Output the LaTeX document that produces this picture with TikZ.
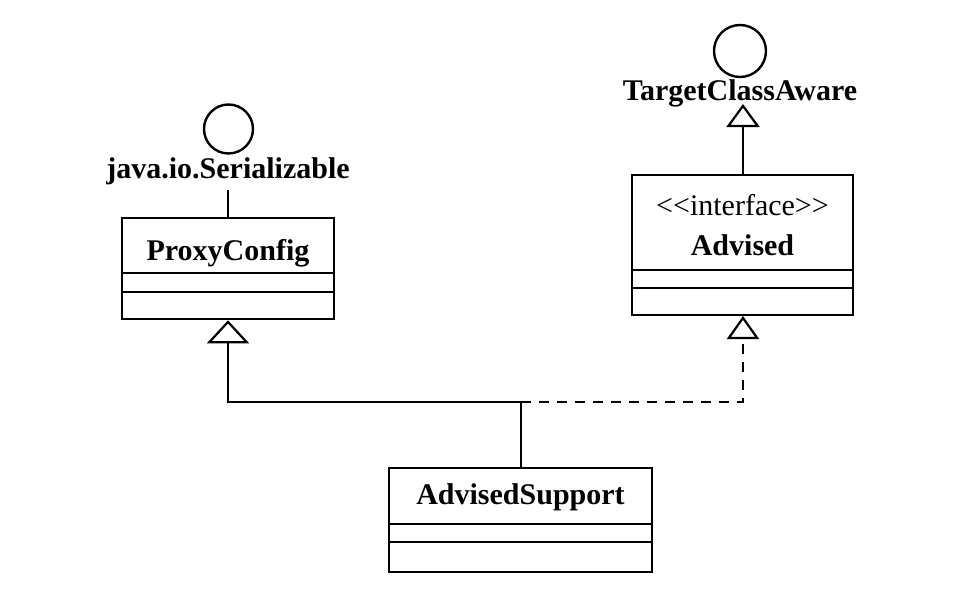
\documentclass[tikz,border=0pt]{standalone}
\usepackage{fontspec}
\setmainfont{Liberation Serif}
\usetikzlibrary{arrows.meta}
\begin{document}
\begin{tikzpicture}[x=1pt,y=-1pt,
  classbox/.style={draw, line width=2.6pt, rectangle, inner sep=0pt},
  iface/.style={draw, circle, line width=2.4pt, inner sep=0pt},
  lbl/.style={font=\fontsize{30}{36}\selectfont\bfseries, inner sep=0pt},
  conn/.style={line width=2.2pt},
  dashconn/.style={line width=2.2pt, dash pattern=on 10pt off 8pt},
  gen/.style={-{Triangle[open, length=23pt, width=#1, line width=2.2pt]}}
]
\useasboundingbox (0,0) rectangle (978,594);

% ProxyConfig
\node[classbox, minimum width=212pt, minimum height=101pt] (pc) at (228,268.5) {};
\node[lbl] (pct) at (228,253) {ProxyConfig};
\draw[line width=2.2pt] (122,273) -- (334,273);
\draw[line width=2.2pt] (122,292) -- (334,292);

% Serializable interface
\node[iface, minimum size=49pt] (ser) at (228.5,129) {};
\node[lbl, anchor=base] (serl) at (228,178) {java.io.Serializable};
\coordinate (serb) at (228,190);
\draw[conn] (serb) -- (pc.north);

% Advised
\node[classbox, minimum width=221pt, minimum height=140pt] (adv) at (742.5,245) {};
\node[font=\fontsize{30}{36}\selectfont, inner sep=0pt] (advs) at (742.5,205) {{<}{<}interface{>}{>}};
\node[lbl] (advt) at (742.5,245) {Advised};
\draw[line width=2.2pt] (632,270) -- (853,270);
\draw[line width=2.2pt] (632,288) -- (853,288);

% TargetClassAware
\node[iface, minimum size=52pt] (tca) at (740,51) {};
\node[lbl, anchor=base] (tcal) at (740,101) {TargetClassAware};
\coordinate (tcab) at (743,104);
\draw[conn, gen=33pt] (adv.north -| tcab) -- (tcab);

% AdvisedSupport
\node[classbox, minimum width=263pt, minimum height=104pt] (as) at (520.5,520) {};
\node[lbl] (ast) at (520.5,497) {AdvisedSupport};
\draw[line width=2.2pt] (389,524) -- (652,524);
\draw[line width=2.2pt] (389,542) -- (652,542);

% generalization / realization
\coordinate (j) at (521,402);
\draw[conn] (as.north -| j) -- (j);
\draw[conn, gen=42pt] (j) -| (pc.south);
\draw[dashconn, gen=32pt] (j) -| (743,316);
\end{tikzpicture}
\end{document}
